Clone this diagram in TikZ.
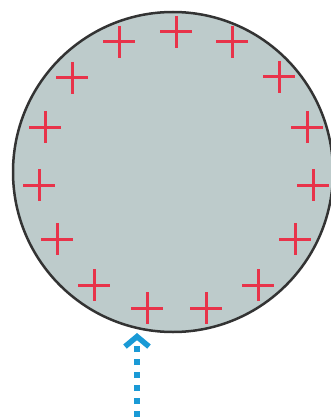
\documentclass[tikz,border=0pt]{standalone}
\usetikzlibrary{arrows.meta}
\definecolor{discfill}{HTML}{BDCBCB}
\definecolor{chargered}{HTML}{E8334A}
\definecolor{probeblue}{HTML}{1A9AD6}
\begin{document}
\begin{tikzpicture}[x=1pt,y=-1pt,
  charge/.style={chargered,line width=3pt},
  probe/.style={probeblue,line width=5.5pt,dash pattern=on 6pt off 7pt,
    -{Straight Barb[length=10pt,width=24pt,line width=5.5pt]}}]
\useasboundingbox (0,0) rectangle (331,417);
\node[circle,draw=black!80,fill=discfill,line width=2.5pt,
  minimum size=320pt,inner sep=0pt] (disc) at (173,172) {};
% charges round the rim
\foreach \x/\y in {45/127,39/185,57/239,94/285,147/308,206/308,258/285,
  295/239,313/185,307/127,279/77,232/42,176/32,119/42,72/78}
  \draw[charge] (\x,\y) ++(-16,0) -- ++(32,0) (\x,\y) ++(0,-16) -- ++(0,32);
\coordinate (src) at (137,417);
\coordinate (tip) at (137,333);
\draw[probe] (src) -- (tip);
\end{tikzpicture}
\end{document}
